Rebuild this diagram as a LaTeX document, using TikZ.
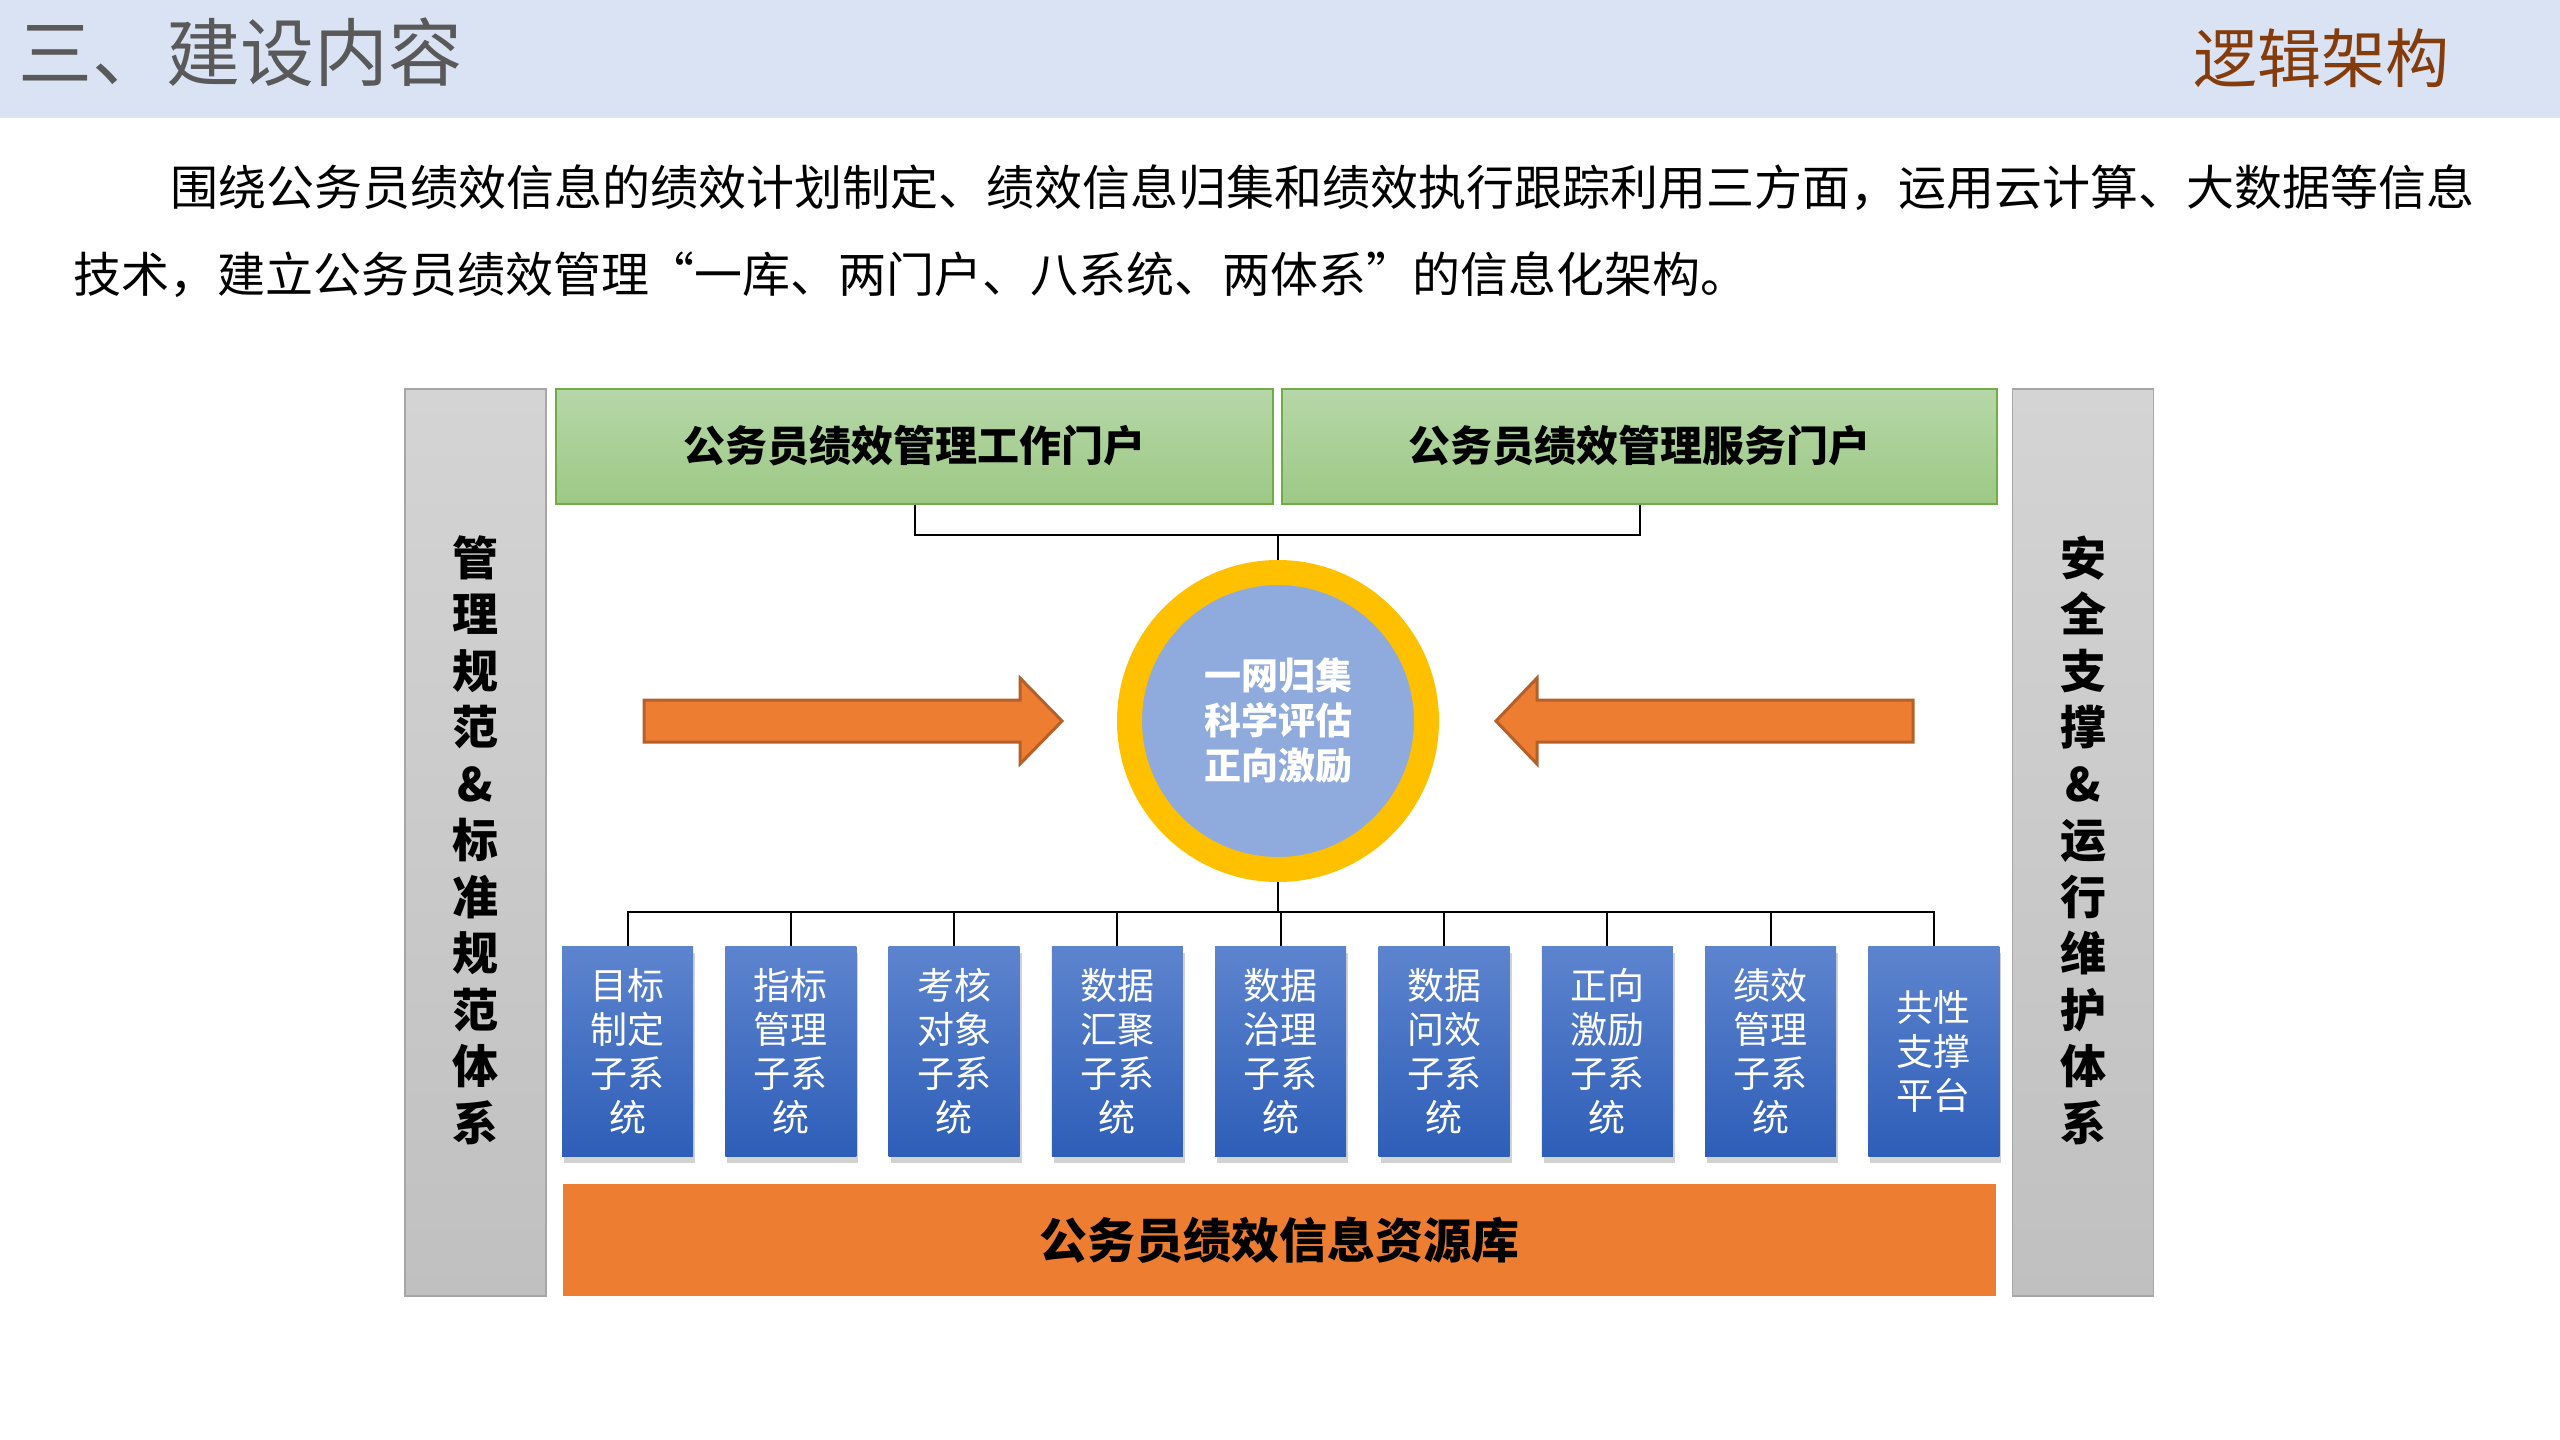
\documentclass[tikz,border=0pt]{standalone}
\usepackage{fontspec}
\setmainfont{Noto Sans CJK SC}
\usetikzlibrary{shadows}
\definecolor{hdrbg}{HTML}{DAE3F3}
\definecolor{titlegray}{HTML}{595959}
\definecolor{brownt}{HTML}{843C0C}
\definecolor{gtop}{HTML}{B6D7A8}
\definecolor{gbot}{HTML}{9DC985}
\definecolor{gborder}{HTML}{70AD47}
\definecolor{greytop}{HTML}{D4D4D4}
\definecolor{greybot}{HTML}{C0C0C0}
\definecolor{greyborder}{HTML}{A6A6A6}
\definecolor{btop}{RGB}{93,132,206}
\definecolor{bbot}{RGB}{46,94,184}
\definecolor{orangef}{HTML}{ED7D31}
\definecolor{oborder}{HTML}{B5602A}
\definecolor{ringy}{HTML}{FFC000}
\definecolor{innerb}{HTML}{8FAADC}
\tikzset{
  portal/.style={rectangle, draw=gborder, line width=2pt, top color=gtop, bottom color=gbot,
    minimum width=716pt, minimum height=115pt, inner sep=0pt,
    font=\fontsize{42}{42}\selectfont\bfseries, text=black},
  sidebar/.style={rectangle, draw=greyborder, line width=1.5pt, top color=greytop, bottom color=greybot,
    minimum width=141pt, minimum height=907pt, inner sep=0pt},
  sidetext/.style={align=center, inner sep=0pt, font=\fontsize{46}{56.5}\selectfont\bfseries, text=black},
  subsys/.style={rectangle, top color=btop, bottom color=bbot, minimum width=131pt, minimum height=210pt,
    inner sep=0pt, align=center, text=white, font=\fontsize{37}{44}\selectfont,
    drop shadow={opacity=0.35, shadow xshift=2pt, shadow yshift=-7pt}},
  conn/.style={draw=black, line width=2pt},
  bigarrow/.style={fill=orangef, draw=oborder, line width=3pt, line join=miter},
  paratext/.style={anchor=base west, inner sep=0pt, font=\fontsize{48}{48}\selectfont},
}
\begin{document}
\begin{tikzpicture}[x=1pt,y=-1pt]
\useasboundingbox (0,0) rectangle (2560,1440);
\fill[white] (0,0) rectangle (2560,1440);
% header
\fill[hdrbg] (0,0) rectangle (2560,118);
\node[anchor=base west, inner sep=0pt, text=titlegray, font=\fontsize{74}{74}\selectfont] (title) at (18,80) {三、建设内容};
\node[anchor=base west, inner sep=0pt, text=brownt, font=\fontsize{64}{64}\selectfont] (subtitle) at (2193,82) {逻辑架构};
% paragraph
\node[paratext] (para1) at (170,205.6) {围绕公务员绩效信息的绩效计划制定、绩效信息归集和绩效执行跟踪利用三方面，运用云计算、大数据等信息};
\node[paratext] (para2) at (73,292.6) {技术，建立公务员绩效管理\makebox[0.95em][r]{“}一库、两门户、八系统、两体系\makebox[0.95em][l]{”}的信息化架构。};
% side bars
\node[sidebar] (lbar) at (475.5,842.5) {};
\node[sidetext] (ltext) at (475.5,840) {管\\理\\规\\范\\\&\\标\\准\\规\\范\\体\\系};
\node[sidebar] (rbar) at (2083,842.5) {};
\node[sidetext] (rtext) at (2083,840) {安\\全\\支\\撑\\\&\\运\\行\\维\\护\\体\\系};
% portals
\node[portal, minimum width=717pt] (g1) at (914.5,446) {公务员绩效管理工作门户};
\node[portal, minimum width=715pt] (g2) at (1639.5,446) {公务员绩效管理服务门户};
% circle
\node[circle, draw=ringy, line width=25pt, fill=innerb, minimum size=297pt, inner sep=0pt,
  align=center, text=white, font=\fontsize{37}{45}\selectfont\bfseries] (core) at (1278,721) {一网归集\\科学评估\\正向激励};
% connectors top
\coordinate (top) at (1278,535);
\draw[conn] (g1.south) |- (top);
\draw[conn] (g2.south) |- (top);
\draw[conn] (top) -- (core.north);
% arrows
\draw[bigarrow] (644,700) -- (1020,700) -- (1020,678) -- (1062,721) -- (1020,764) -- (1020,742) -- (644,742) -- cycle;
\draw[bigarrow] (1913,700) -- (1537,700) -- (1537,678) -- (1496,721) -- (1537,764) -- (1537,742) -- (1913,742) -- cycle;
% subsystems
\node[subsys] (s1) at (627.5,1051) {目标\\制定\\子系\\统};
\node[subsys] (s2) at (790.8,1051) {指标\\管理\\子系\\统};
\node[subsys] (s3) at (954.1,1051) {考核\\对象\\子系\\统};
\node[subsys] (s4) at (1117.4,1051) {数据\\汇聚\\子系\\统};
\node[subsys] (s5) at (1280.7,1051) {数据\\治理\\子系\\统};
\node[subsys] (s6) at (1444.0,1051) {数据\\问效\\子系\\统};
\node[subsys] (s7) at (1607.3,1051) {正向\\激励\\子系\\统};
\node[subsys] (s8) at (1770.6,1051) {绩效\\管理\\子系\\统};
\node[subsys] (s9) at (1933.9,1051) {共性\\支撑\\平台};
% connectors bottom
\coordinate (bus) at (1278,912);
\draw[conn] (core.south) -- (bus);
\foreach \s in {s1,s2,s3,s4,s5,s6,s7,s8,s9}{
  \draw[conn] (bus) -| (\s.north);
}
% database
\node[rectangle, fill=orangef, minimum width=1433pt, minimum height=112pt, inner sep=0pt,
  font=\fontsize{48}{48}\selectfont\bfseries, text=black] (db) at (1279.5,1240) {公务员绩效信息资源库};
\end{tikzpicture}
\end{document}
